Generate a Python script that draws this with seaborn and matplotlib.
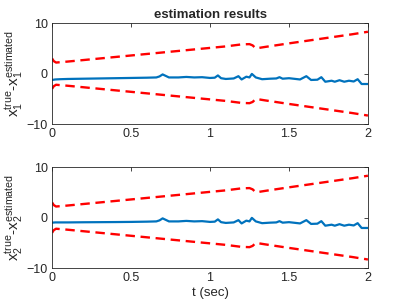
import numpy as np
import pandas as pd
import seaborn as sns
import matplotlib.pyplot as plt

# error traces
t_err = [0.00, 0.02, 0.05, 0.10, 0.20, 0.30, 0.40, 0.50, 0.60, 0.66, 0.68, 0.70,
         0.72, 0.74, 0.80, 0.85, 0.90, 0.95, 1.00, 1.03, 1.05, 1.07, 1.10, 1.15,
         1.18, 1.20, 1.23, 1.25, 1.265, 1.29, 1.33, 1.38, 1.42, 1.44, 1.46, 1.50,
         1.57, 1.61, 1.64, 1.68, 1.705, 1.73, 1.77, 1.79, 1.82, 1.85, 1.88, 1.91,
         1.935, 1.96, 2.00]
err_x1 = [-1.25, -1.15, -1.10, -1.05, -1.00, -0.95, -0.90, -0.85, -0.80, -0.75, -0.55, -0.15,
          -0.45, -0.75, -0.75, -0.65, -0.75, -0.70, -0.85, -0.80, -0.35, -0.90, -1.05, -0.95,
          -0.50, -1.15, -0.60, -0.75, -0.05, -0.75, -1.10, -1.00, -0.95, -0.70, -1.00, -0.90,
          -1.15, -0.50, -1.25, -1.20, -0.70, -1.60, -1.40, -1.60, -1.30, -1.60, -1.40, -1.55,
          -1.10, -2.05, -2.05]
err_x2 = [-1.00, -0.95, -0.95, -0.95, -0.92, -0.90, -0.88, -0.85, -0.80, -0.75, -0.55, -0.15,
          -0.45, -0.75, -0.75, -0.65, -0.75, -0.70, -0.85, -0.80, -0.35, -0.90, -1.05, -0.95,
          -0.50, -1.15, -0.60, -0.75, -0.05, -0.75, -1.10, -1.00, -0.95, -0.70, -1.00, -0.90,
          -1.15, -0.50, -1.25, -1.20, -0.70, -1.60, -1.40, -1.60, -1.30, -1.60, -1.40, -1.55,
          -1.10, -2.05, -2.05]

# +/- bounds
t_bnd = [0.00, 0.01, 0.025, 0.10, 0.30, 0.50, 0.70, 0.90, 1.10, 1.20, 1.25, 1.27,
         1.29, 1.35, 1.50, 1.70, 1.90, 2.00]
upper = [3.0, 2.5, 2.2, 2.4, 3.0, 3.6, 4.2, 4.8, 5.4, 5.8, 5.85, 5.6,
         5.0, 5.3, 6.0, 6.9, 7.8, 8.3]
lower = [-3.0, -2.5, -2.2, -2.4, -3.0, -3.6, -4.2, -4.8, -5.4, -5.8, -5.85, -5.6,
         -5.0, -5.3, -6.0, -6.9, -7.8, -8.3]

ylabels = [r'$\mathregular{x_1^{true}\text{-}x_1^{estimated}}$',
           r'$\mathregular{x_2^{true}\text{-}x_2^{estimated}}$']
xticks = [0, 0.5, 1, 1.5, 2]
xticklabels = ['0', '0.5', '1', '1.5', '2']
yticks = [-10, 0, 10]

sns.set_theme(style='white')
plt.rcParams['font.family'] = ['Liberation Sans', 'DejaVu Sans']
plt.rcParams['mathtext.fontset'] = 'custom'
plt.rcParams['mathtext.rm'] = 'Liberation Sans'
plt.rcParams['mathtext.it'] = 'Liberation Sans'

fig = plt.figure(figsize=(4.07, 3.05), dpi=100)
ax1 = fig.add_axes([0.128, 0.593, 0.776, 0.331])
ax2 = fig.add_axes([0.128, 0.121, 0.776, 0.331])

blue = '#0072BD'
for ax, err, lab in [(ax1, err_x1, ylabels[0]), (ax2, err_x2, ylabels[1])]:
    sns.lineplot(x=t_err, y=err, ax=ax, color=blue, linewidth=1.6)
    sns.lineplot(x=t_bnd, y=upper, ax=ax, color='red', linewidth=1.7, dashes=False)
    sns.lineplot(x=t_bnd, y=lower, ax=ax, color='red', linewidth=1.7, dashes=False)
    for ln in ax.lines[1:]:
        ln.set_linestyle((0, (4, 2.4)))
    ax.set_xlim(0, 2)
    ax.set_ylim(-10, 10)
    ax.set_xticks(xticks)
    ax.set_xticklabels(xticklabels)
    ax.set_yticks(yticks)
    ax.tick_params(direction='in', length=3, width=0.6, colors='#262626',
                   labelsize=9, top=True, right=True, pad=3)
    for sp in ax.spines.values():
        sp.set_color('#262626')
        sp.set_linewidth(0.6)
    ax.set_ylabel(lab, fontsize=11, labelpad=1)

ax1.set_title('estimation results', fontsize=9.5, fontweight='bold', pad=4)
ax2.set_xlabel('t (sec)', fontsize=9.5, labelpad=2)

fig.savefig('out.png', dpi=100)
